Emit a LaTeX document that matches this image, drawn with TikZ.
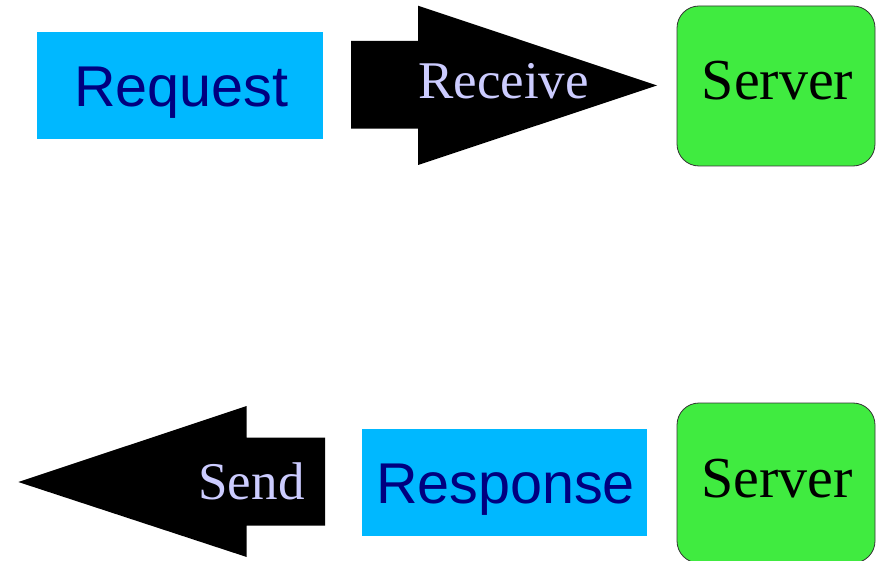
\documentclass[tikz,border=0pt]{standalone}
\usepackage{fontspec}
\setmainfont{Liberation Serif}
\setsansfont{Liberation Sans}
\definecolor{boxcyan}{RGB}{0,184,255}
\definecolor{srvgreen}{RGB}{64,235,64}
\definecolor{navy}{RGB}{0,0,128}
\definecolor{lav}{RGB}{204,204,255}
\begin{document}
\begin{tikzpicture}[x=1pt,y=-1pt,
  msgbox/.style={fill=boxcyan,draw=none,inner sep=0pt,minimum width=#1,minimum height=107pt},
  srvbox/.style={fill=srvgreen,draw=black!80,line width=0.8pt,rounded corners=22pt,inner sep=0pt,minimum width=198pt,minimum height=160pt},
  sanslbl/.style={anchor=base,inner sep=0pt,text=navy,font=\sffamily\fontsize{57.5}{60}\selectfont},
  seriflbl/.style={anchor=base,inner sep=0pt,font=\fontsize{58}{60}\selectfont},
  arrowlbl/.style={anchor=base,inner sep=0pt,text=lav,font=\fontsize{53}{60}\selectfont},
  blockarrow/.style={fill=black}]
\useasboundingbox (0,0) rectangle (883,561);
% top row
\node[msgbox=286pt] (req) at (180,85.5) {};
\node[sanslbl] (reqt) at (181.5,106.7) {Request};
\coordinate (ra1) at (351,41);
\coordinate (ra2) at (418,41);
\coordinate (ra3) at (418,5.7);
\coordinate (ratip) at (657,85.5);
\coordinate (ra4) at (418,165);
\coordinate (ra5) at (418,128.7);
\coordinate (ra6) at (351,128.7);
\fill[blockarrow] (ra1) -- (ra2) -- (ra3) -- (ratip) -- (ra4) -- (ra5) -- (ra6) -- cycle;
\node[arrowlbl] (recv) at (503.5,99) {Receive};
\node[srvbox] (srv1) at (776,86) {};
\node[seriflbl] (srv1t) at (777.5,100) {Server};
% bottom row
\coordinate (sa1) at (325,437.7);
\coordinate (sa2) at (246.7,437.7);
\coordinate (sa3) at (246.7,406);
\coordinate (satip) at (18.3,482);
\coordinate (sa4) at (246.7,557);
\coordinate (sa5) at (246.7,525.7);
\coordinate (sa6) at (325,525.7);
\fill[blockarrow] (sa1) -- (sa2) -- (sa3) -- (satip) -- (sa4) -- (sa5) -- (sa6) -- cycle;
\node[arrowlbl] (send) at (251.5,499) {Send};
\node[msgbox=285pt] (resp) at (504.5,482.3) {};
\node[sanslbl] (respt) at (505.5,503) {Response};
\node[srvbox] (srv2) at (776,483) {};
\node[seriflbl] (srv2t) at (777,497) {Server};
\end{tikzpicture}
\end{document}
